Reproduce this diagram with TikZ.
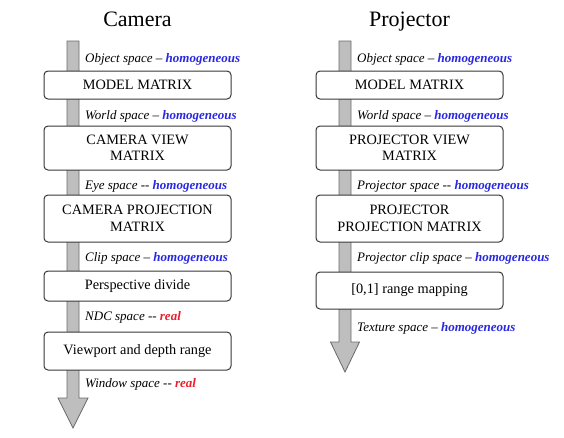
\documentclass[tikz,border=0pt]{standalone}
\usepackage{fontspec}
\setmainfont{Liberation Serif}
\definecolor{hblue}{RGB}{40,40,225}
\definecolor{hred}{RGB}{235,30,45}
\definecolor{barfill}{RGB}{190,190,190}
\definecolor{bardraw}{RGB}{105,105,105}
\definecolor{boxdraw}{RGB}{55,55,55}
\newcommand{\homog}{\textbf{\color{hblue}homogeneous}}
\newcommand{\realv}{\textbf{\color{hred}real}}

\begin{document}
\begin{tikzpicture}[x=1pt,y=-1pt,
		stagebox/.style={draw=boxdraw,line width=1pt,fill=white,rounded corners=4pt,minimum width=187pt,inner sep=0pt,align=center,font=\fontsize{14.3}{16.5}\selectfont},
		spacelbl/.style={anchor=base west,inner sep=0pt,font=\fontsize{13}{15}\selectfont\itshape},
		coltitle/.style={anchor=base,inner sep=0pt,font=\fontsize{22}{26}\selectfont},
		flow/.style={draw=bardraw,fill=barfill,line width=0.8pt}]
		\useasboundingbox (0,0) rectangle (564,437);
		% titles
		\node[coltitle] (camtitle) at (137.5,26) {Camera};
		\node[coltitle] (projtitle) at (409.5,26) {Projector};
		% gray flow arrows
		\coordinate (camtop) at (73,41);
		\coordinate (projtop) at (345,41);
		\draw[flow] (camtop) ++(-6,0) -- ++(12,0) -- ++(0,357) -- ++(9,0) -- ++(-15,30) -- ++(-15,-30) -- ++(9,0) -- cycle;
		\draw[flow] (projtop) ++(-6,0) -- ++(12,0) -- ++(0,301) -- ++(8.5,0) -- ++(-14.5,30) -- ++(-14.5,-30) -- ++(8.5,0) -- cycle;
		% camera stages
		\node[stagebox,minimum height=28pt] (cmodel) at (137.5,85) {MODEL MATRIX};
		\node[stagebox,minimum height=44pt] (cview) at (137.5,148) {CAMERA VIEW\\MATRIX};
		\node[stagebox,minimum height=47pt] (cproj) at (137.5,218.5) {CAMERA PROJECTION\\MATRIX};
		\node[stagebox,minimum height=30pt] (cdivide) at (137.5,286) {Perspective divide};
		\node[stagebox,minimum height=38pt] (cviewport) at (137.5,351) {Viewport and depth range};
		\node[spacelbl] (cobject) at (85,62) {Object space -- \homog};
		\node[spacelbl] (cworld) at (85,119) {World space -- \homog};
		\node[spacelbl] (ceye) at (85,189) {Eye space -{}- \homog};
		\node[spacelbl] (cclip) at (85,261) {Clip space -- \homog};
		\node[spacelbl] (cndc) at (85,320) {NDC space -{}- \realv};
		\node[spacelbl] (cwindow) at (85,387) {Window space -{}- \realv};
		% projector stages
		\node[stagebox,minimum height=28pt] (pmodel) at (409.5,85) {MODEL MATRIX};
		\node[stagebox,minimum height=44pt] (pview) at (409.5,148) {PROJECTOR VIEW\\MATRIX};
		\node[stagebox,minimum height=47pt] (pproj) at (409.5,218.5) {PROJECTOR\\PROJECTION MATRIX};
		\node[stagebox,minimum height=37pt] (prange) at (409.5,290.5) {[0,1] range mapping};
		\node[spacelbl] (pobject) at (357,62) {Object space -- \homog};
		\node[spacelbl] (pworld) at (357,119) {World space -- \homog};
		\node[spacelbl] (pspace) at (357,189) {Projector space -{}- \homog};
		\node[spacelbl] (pclip) at (357,261) {Projector clip space -- \homog};
		\node[spacelbl] (ptexture) at (357,331) {Texture space -- \homog};
	\end{tikzpicture}
\end{document}
